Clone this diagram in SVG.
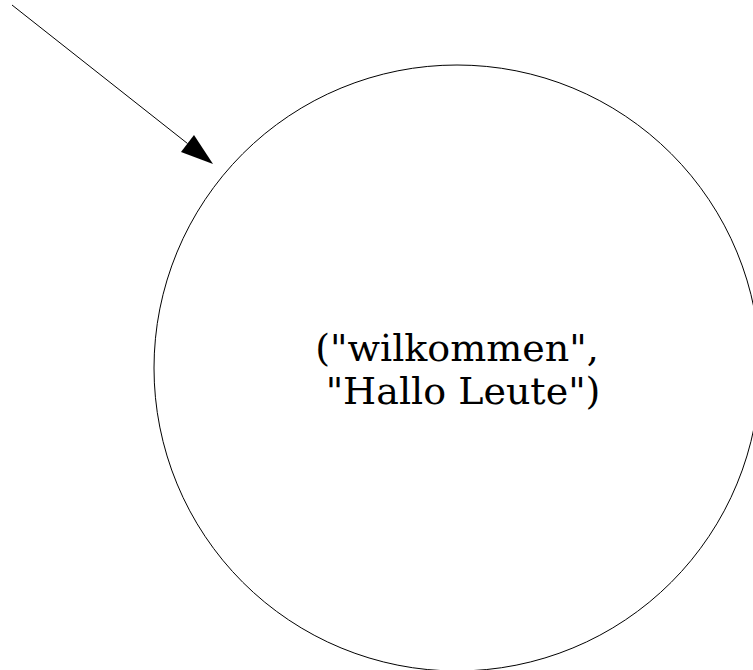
<svg xmlns="http://www.w3.org/2000/svg" width="753" height="670" viewBox="0 0 753 670">
  <style>
    .node-shape { fill: none; stroke: #000; stroke-width: 1; }
    .edge { fill: none; stroke: #000; stroke-width: 1; }
    .label { font-family: "DejaVu Serif", serif; font-size: 38px; fill: #000; }
  </style>
  <rect width="753" height="670" fill="#fff"/>
  <g id="edges">
    <line class="edge" x1="12" y1="5" x2="187.5" y2="143.5"/>
    <polygon points="213,164 194,135 181,152" fill="#000"/>
  </g>
  <g id="node-greeting">
    <circle class="node-shape" cx="457" cy="368" r="303"/>
    <text class="label" xml:space="preserve" text-anchor="middle" x="457" y="361">("wilkommen",</text>
    <text class="label" xml:space="preserve" text-anchor="middle" x="457" y="404"> "Hallo Leute")</text>
  </g>
</svg>
